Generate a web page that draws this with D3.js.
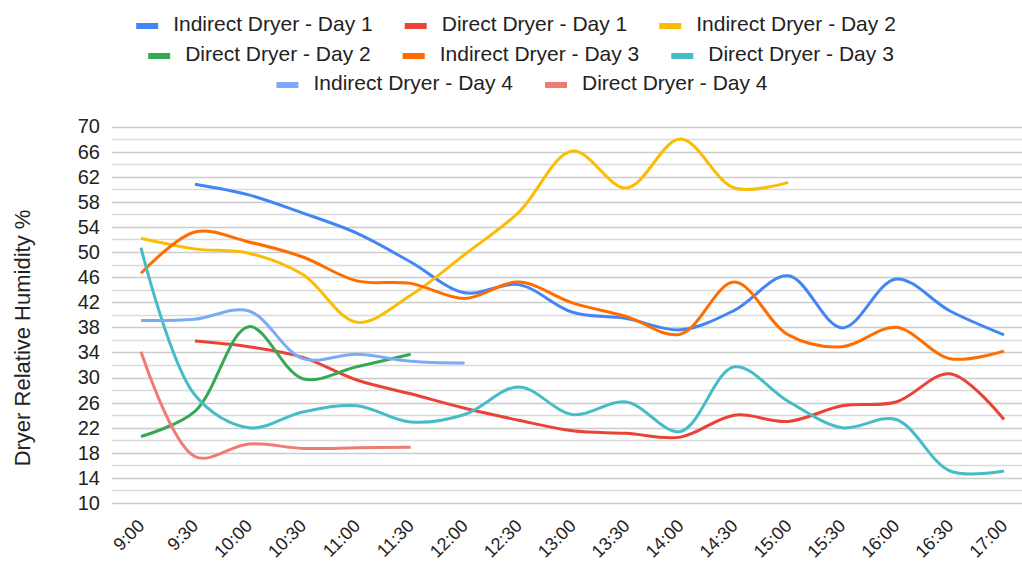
<!DOCTYPE html>
<html>
<head>
<meta charset="utf-8">
<script src="https://cdn.jsdelivr.net/npm/d3@7"></script>
<style>
  body { margin: 0; background: #fff; }
  svg { display: block; font-family: "Liberation Sans", Arial, sans-serif; }
</style>
</head>
<body>
<script>
// time slots on the x axis
const times = ["9:00", "9:30", "10:00", "10:30", "11:00", "11:30", "12:00", "12:30",
  "13:00", "13:30", "14:00", "14:30", "15:00", "15:30", "16:00", "16:30", "17:00"];

const yTicks = [10, 14, 18, 22, 26, 30, 34, 38, 42, 46, 50, 54, 58, 62, 66, 70];

const seriesNames = ["Indirect Dryer - Day 1", "Direct Dryer - Day 1", "Indirect Dryer - Day 2",
  "Direct Dryer - Day 2", "Indirect Dryer - Day 3", "Direct Dryer - Day 3",
  "Indirect Dryer - Day 4", "Direct Dryer - Day 4"];

const colors = ["#4285f4", "#ea4335", "#fbbc04", "#34a853", "#ff6d01", "#46bdc6", "#7baaf7", "#f07b72"];

// null = no reading
const indirectDay1 = [null, 60.8, 59.1, 56.2, 53.0, 48.4, 43.5, 44.8, 40.4, 39.4, 37.6, 40.7, 46.2, 37.9, 45.7, 40.6, 36.8];
const directDay1   = [null, 35.8, 34.9, 33.2, 29.6, 27.4, 25.1, 23.2, 21.5, 21.1, 20.5, 24.0, 23.0, 25.5, 26.1, 30.6, 23.3];
const indirectDay2 = [52.2, 50.5, 49.8, 46.4, 38.8, 43.1, 49.6, 56.3, 66.1, 60.2, 68.0, 60.2, 61.1, null, null, null, null];
const directDay2   = [20.6, 24.6, 38.1, 29.8, 31.7, 33.7, null, null, null, null, null, null, null, null, null, null, null];
const indirectDay3 = [46.6, 53.2, 51.6, 49.2, 45.4, 45.0, 42.6, 45.2, 41.9, 39.7, 36.9, 45.2, 36.8, 34.9, 38.0, 33.0, 34.2];
const directDay3   = [50.7, 27.2, 22.0, 24.5, 25.5, 22.9, 24.1, 28.5, 24.1, 26.1, 21.4, 31.7, 26.2, 22.0, 23.3, 15.1, 15.1];
const indirectDay4 = [39.1, 39.3, 40.6, 33.0, 33.7, 32.6, 32.3, null, null, null, null, null, null, null, null, null, null];
const directDay4   = [34.1, 17.4, 19.4, 18.7, 18.8, 18.9, null, null, null, null, null, null, null, null, null, null, null];

const allSeries = [indirectDay1, directDay1, indirectDay2, directDay2, indirectDay3, directDay3, indirectDay4, directDay4];

const W = 1022, H = 563;
const plot = { left: 112, right: 1022, top: 126.5, bottom: 503 };

const svg = d3.select("body").append("svg")
  .attr("width", W)
  .attr("height", H);

const x = d3.scalePoint().domain(times).range([141, 1004]);
const y = d3.scaleLinear().domain([10, 70]).range([plot.bottom, plot.top]);

// gridlines: labelled every 4, minor every 2
const gridVals = d3.range(10, 71, 2);
svg.append("g").selectAll("line")
  .data(gridVals)
  .join("line")
  .attr("x1", plot.left)
  .attr("x2", plot.right)
  .attr("y1", d => Math.round(y(d)) + 0.5)
  .attr("y2", d => Math.round(y(d)) + 0.5)
  .attr("stroke", d => (d - 10) % 4 === 0 ? "#cccccc" : "#dadada")
  .attr("stroke-width", 1.3);

// y axis labels
const yAxis = svg.append("g")
  .attr("transform", "translate(" + plot.left + ",0)")
  .call(d3.axisLeft(y).tickValues(yTicks).tickSize(0).tickPadding(12));
yAxis.select(".domain").remove();
yAxis.selectAll("text")
  .attr("font-size", 20)
  .attr("font-family", "'Liberation Sans', Arial, sans-serif")
  .attr("fill", "#222");

// x axis labels, rotated
const xAxis = svg.append("g")
  .attr("transform", "translate(0," + plot.bottom + ")")
  .call(d3.axisBottom(x).tickSize(0).tickPadding(0));
xAxis.select(".domain").remove();
xAxis.selectAll("text")
  .attr("font-size", 18)
  .attr("font-family", "'Liberation Sans', Arial, sans-serif")
  .attr("fill", "#222")
  .attr("text-anchor", "end")
  .attr("dy", 0)
  .attr("transform", "translate(4,24) rotate(-45)");

// axis title
svg.append("text")
  .attr("transform", "translate(30,338) rotate(-90)")
  .attr("text-anchor", "middle")
  .attr("font-size", 22)
  .attr("fill", "#222")
  .text("Dryer Relative Humidity %");

// lines
const line = d3.line()
  .defined(d => d.v !== null)
  .x(d => x(d.t))
  .y(d => y(d.v))
  .curve(d3.curveCatmullRom.alpha(0.5));

svg.append("g").selectAll("path")
  .data(allSeries)
  .join("path")
  .attr("d", s => line(s.map((v, i) => ({ t: times[i], v: v }))))
  .attr("fill", "none")
  .attr("stroke", (s, i) => colors[i])
  .attr("stroke-width", 3)
  .attr("stroke-linejoin", "round");

// legend, three centred rows
const legendRows = [[0, 1, 2], [3, 4, 5], [6, 7]];
const rowBase = [31, 61, 90];
const rowCenter = [516, 521, 522];
const swatchW = 22, swatchGap = 15, itemGap = 32;

legendRows.forEach((row, r) => {
  const g = svg.append("g");
  let cursor = 0;
  row.forEach(idx => {
    const item = g.append("g").attr("transform", "translate(" + cursor + ",0)");
    item.append("rect")
      .attr("x", 0)
      .attr("y", rowBase[r] - 8)
      .attr("width", swatchW)
      .attr("height", 6)
      .attr("fill", colors[idx]);
    const t = item.append("text")
      .attr("x", swatchW + swatchGap)
      .attr("y", rowBase[r])
      .attr("font-size", 21)
      .attr("fill", "#222")
      .text(seriesNames[idx]);
    cursor += swatchW + swatchGap + t.node().getComputedTextLength() + itemGap;
  });
  const total = cursor - itemGap;
  g.attr("transform", "translate(" + (rowCenter[r] - total / 2) + ",0)");
});
</script>
</body>
</html>
